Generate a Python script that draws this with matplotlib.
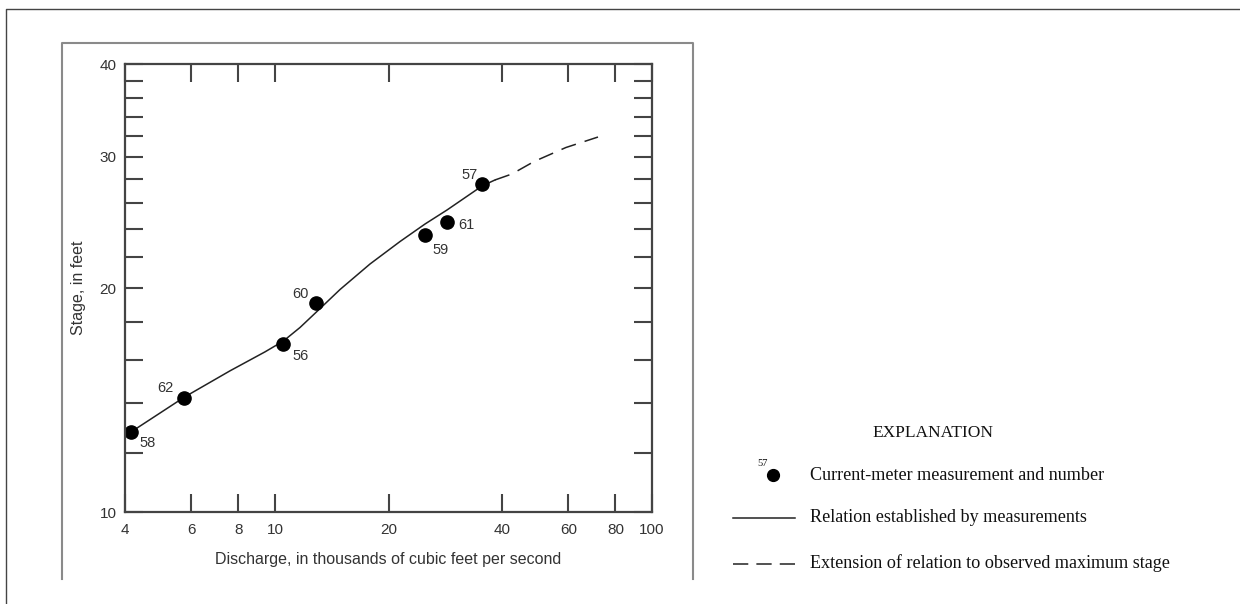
import matplotlib.pyplot as plt
from matplotlib.lines import Line2D
from matplotlib.ticker import FixedLocator, NullFormatter, NullLocator

# current-meter measurements (discharge in 1000 cfs, stage in ft)
meas_id = ["58", "62", "56", "60", "59", "61", "57"]
meas_q = [4.15, 5.75, 10.5, 12.85, 25.0, 28.6, 35.3]
meas_h = [12.8, 14.25, 16.8, 19.1, 23.6, 24.5, 27.6]

# rating curve
curve_q = [4.15, 5.75, 7.6, 9.4, 10.52, 11.65, 12.85, 14.88, 17.86, 21.45,
           25.0, 28.59, 35.4, 38.33]
curve_h = [12.81, 14.27, 15.48, 16.41, 16.97, 17.70, 18.55, 19.91, 21.54, 23.09,
           24.38, 25.46, 27.42, 27.94]
ext_q = [38.33, 42.5, 48.65, 59.1, 71.9]
ext_h = [27.94, 28.46, 29.58, 30.89, 31.91]

xticks = [4, 6, 8, 10, 20, 40, 60, 80, 100]
yticks = [10, 20, 30, 40]
yminor = [12, 14, 16, 18, 22, 24, 26, 28, 32, 34, 36, 38]

# label offsets in pixels (dx, dy up)
lab_off = [(17, -11), (-19, 10), (18, -12), (-16, 9), (16, -15), (19, -3), (-12, 9)]

W, H = 1240, 604
fig = plt.figure(figsize=(W / 100, H / 100), dpi=100)
plt.rcParams['font.family'] = ['Liberation Sans', 'DejaVu Sans']

def px(x, y):
    return x / W, 1 - y / H

# page frames
for xs, ys, c, lw in [([6, 6, W], [H, 9, 9], '#444444', 1.0),
                      ([62, 62, 693, 693], [579, 43, 43, 579], '#8a8a8a', 1.5)]:
    pts = [px(a, b) for a, b in zip(xs, ys)]
    fig.add_artist(Line2D([p[0] for p in pts], [p[1] for p in pts],
                          color=c, lw=lw, transform=fig.transFigure))

ax = fig.add_axes([125 / W, 1 - 512 / H, (652 - 125) / W, (512 - 64) / H])
ax.set_xscale('log')
ax.set_yscale('log')
ax.set_xlim(4, 100)
ax.set_ylim(10, 40)

ax.plot(curve_q, curve_h, color='#222222', lw=1.1)
ax.plot(ext_q, ext_h, color='#222222', lw=1.1, dashes=(10, 6))
ax.plot(meas_q, meas_h, 'o', color='black', ms=9.5)
for lab, q, h, (dx, dy) in zip(meas_id, meas_q, meas_h, lab_off):
    ax.annotate(lab, (q, h), xytext=(dx, dy), textcoords='offset pixels',
                ha='center', va='center', fontsize=10.5, color='#333333')

ax.xaxis.set_major_locator(FixedLocator(xticks))
ax.xaxis.set_minor_locator(NullLocator())
ax.set_xticklabels([str(t) for t in xticks])
ax.yaxis.set_major_locator(FixedLocator(yticks))
ax.yaxis.set_minor_locator(FixedLocator(yminor))
ax.yaxis.set_minor_formatter(NullFormatter())
ax.set_yticklabels([str(t) for t in yticks])
ax.tick_params(which='both', direction='in', length=13, width=1.5,
               top=True, right=True, colors='#444444', labelcolor='#333333',
               labelsize=11)
ax.tick_params(axis='x', pad=8)
ax.tick_params(axis='y', pad=6)
for s in ax.spines.values():
    s.set_linewidth(1.6)
    s.set_color('#444444')

ax.set_xlabel('Discharge, in thousands of cubic feet per second',
              fontsize=11.5, color='#333333', labelpad=11)
ax.set_ylabel('Stage, in feet', fontsize=11.5, color='#333333', labelpad=10)

# explanation block
serif = ['Liberation Serif', 'DejaVu Serif']
fig.text(*px(933, 433), 'EXPLANATION', ha='center', va='center',
         fontsize=12.5, family=serif, color='#111111')
fig.add_artist(Line2D(*zip(px(773, 475)), marker='o', ms=8.5, color='black',
                      transform=fig.transFigure))
fig.text(*px(763, 464), '57', ha='center', va='center', fontsize=7.5,
         family=serif, color='#111111')
fig.add_artist(Line2D(*zip(px(733, 518), px(795, 518)), color='#222222', lw=1.1,
                      transform=fig.transFigure))
fig.add_artist(Line2D(*zip(px(733, 564), px(795, 564)), color='#222222', lw=1.1,
                      dashes=(10, 5.3), transform=fig.transFigure))
for yy, t in [(476, 'Current-meter measurement and number'),
              (518, 'Relation established by measurements'),
              (563, 'Extension of relation to observed maximum stage')]:
    fig.text(*px(810, yy), t, ha='left', va='center', fontsize=13.1,
             family=serif, color='#111111')

fig.savefig('out.png', dpi=100)
